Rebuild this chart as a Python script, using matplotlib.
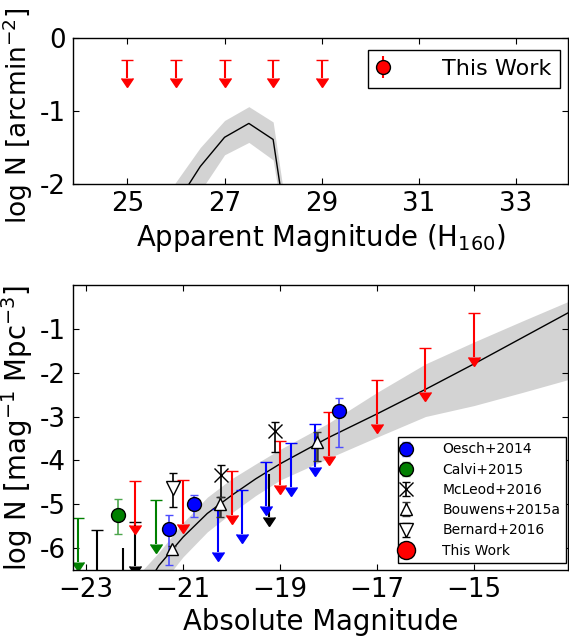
import matplotlib
matplotlib.use("Agg")
import matplotlib.pyplot as plt
from matplotlib.lines import Line2D

# ---- top panel: surface density vs apparent magnitude ----
app_mag = [25, 26, 27, 28, 29]
app_limit = [-0.3, -0.3, -0.3, -0.3, -0.3]
app_limit_len = 0.25

model_app_mag = [25.5, 26.0, 26.5, 27.0, 27.5, 28.0, 28.5]
model_app = [-3.2, -2.28, -1.76, -1.36, -1.17, -1.39, -3.6]
model_app_hi = [-2.5, -1.97, -1.50, -1.13, -0.94, -1.15, -3.4]
model_app_lo = [-3.6, -2.6, -2.1, -1.60, -1.43, -1.67, -3.7]

# ---- bottom panel: luminosity function ----
model_mag = [-22.0, -21.5, -21.0, -20.5, -20.0, -19.5, -19.0, -18.5, -18.0,
             -17.0, -16.0, -15.0, -14.0, -13.0]
model_lf = [-7.3, -6.4, -5.75, -5.21, -4.8, -4.42, -4.08, -3.78, -3.48,
            -2.94, -2.38, -1.80, -1.2, -0.6]
model_lf_hi = [-6.7, -6.1, -5.42, -4.84, -4.42, -4.08, -3.75, -3.45, -3.15,
               -2.45, -1.8, -1.3, -0.82, -0.35]
model_lf_lo = [-7.8, -6.9, -6.2, -5.63, -5.2, -4.8, -4.45, -4.2, -3.95,
               -3.47, -3.0, -2.75, -2.45, -2.14]

oesch_mag = [-21.28, -20.78, -17.78]
oesch_lf = [-5.56, -4.99, -2.88]
oesch_err_lo = [0.83, 0.30, 0.82]
oesch_err_hi = [0.31, 0.19, 0.31]
oesch_lim_mag = [-20.28, -19.78, -19.28, -18.78, -18.28]
oesch_lim = [-5.1, -4.68, -4.04, -3.60, -3.16]

calvi_mag = [-22.35]
calvi_lf = [-5.25]
calvi_err_lo = [0.44]
calvi_err_hi = [0.38]
calvi_lim_mag = [-23.16, -21.56]
calvi_lim = [-5.31, -4.91]

mcleod_mag = [-20.22, -19.11]
mcleod_lf = [-4.33, -3.34]
mcleod_err_lo = [0.50, 0.47]
mcleod_err_hi = [0.22, 0.21]
mcleod_lim_mag = [-22.78, -22.0]
mcleod_lim = [-5.58, -5.40]

bouwens_mag = [-21.23, -20.23, -18.23]
bouwens_lf = [-6.01, -5.0, -3.58]
bouwens_err_lo = [0.05, 0.29, 0.44]
bouwens_err_hi = [0.05, 0.16, 0.22]
bouwens_lim_mag = [-22.23, -19.23]
bouwens_lim = [-6.0, -4.30]

bernard_mag = [-21.21]
bernard_lf = [-4.64]
bernard_err_lo = [0.42]
bernard_err_hi = [0.35]

work_mag = [-22, -21, -20, -19, -18, -17, -16, -15]
work_lim = [-4.47, -4.44, -4.25, -3.56, -2.90, -2.16, -1.43, -0.64]
limit_len = 1.0

plt.rcParams['font.family'] = 'DejaVu Sans'
plt.rcParams['xtick.direction'] = 'in'
plt.rcParams['ytick.direction'] = 'in'
plt.rcParams['xtick.top'] = True
plt.rcParams['ytick.right'] = True
plt.rcParams['xtick.major.size'] = 4
plt.rcParams['ytick.major.size'] = 4
plt.rcParams['xtick.major.pad'] = 5
plt.rcParams['ytick.major.pad'] = 5

fig = plt.figure(figsize=(5.69, 6.38), dpi=100)
ax1 = fig.add_axes([0.1283, 0.7116, 0.8708, 0.2288])
ax2 = fig.add_axes([0.1283, 0.1066, 0.8708, 0.4467])

tick_fs = 18.8
label_fs = 19.8
arrow_cap = 4.5

# top panel
ax1.fill_between(model_app_mag, model_app_lo, model_app_hi, color='lightgray', lw=0)
ax1.plot(model_app_mag, model_app, color='k', lw=1)
ax1.errorbar(app_mag, app_limit, yerr=app_limit_len, uplims=True, fmt='none',
             color='red', elinewidth=1.5, capsize=arrow_cap)
ax1.errorbar([], [], yerr=[], fmt='o', color='red', mec='k', ms=10,
             ecolor='red', capsize=3, label='This Work')
ax1.set_xlim(23.88, 34.08)
ax1.set_ylim(-2, 0)
ax1.set_xticks([25, 27, 29, 31, 33])
ax1.set_yticks([0, -1, -2])
ax1.set_yticklabels(['0', '-1', '-2'])
ax1.tick_params(labelsize=tick_fs)
ax1.set_xlabel('Apparent Magnitude (H$_{160}$)', fontsize=label_fs)
ax1.set_ylabel('log N [arcmin$^{-2}$]', fontsize=19)
ax1.yaxis.set_label_coords(-0.077, 0.47)
leg1 = ax1.legend(loc='upper right', bbox_to_anchor=(0.983, 0.918), borderaxespad=0,
                  fontsize=16, numpoints=1, handlelength=0.5, handletextpad=2.4,
                  fancybox=False, framealpha=1, edgecolor='k')
leg1.get_frame().set_linewidth(1)

# bottom panel
ax2.fill_between(model_mag, model_lf_lo, model_lf_hi, color='lightgray', lw=0)
ax2.plot(model_mag, model_lf, color='k', lw=1)

lim_kw = dict(uplims=True, fmt='none', elinewidth=1.5, capsize=arrow_cap)
ax2.errorbar(calvi_lim_mag, calvi_lim, yerr=limit_len, color='green', **lim_kw)
ax2.errorbar(mcleod_lim_mag, mcleod_lim, yerr=limit_len, color='k', **lim_kw)
bw_lim = ax2.errorbar(bouwens_lim_mag, bouwens_lim, yerr=limit_len, color='k', **lim_kw)
# Bouwens limits have only the arrow head, no top cap
for cl in bw_lim[1]:
    if cl.get_marker() == '_':
        cl.set_visible(False)
ax2.errorbar(oesch_lim_mag, oesch_lim, yerr=limit_len, color='blue', **lim_kw)
ax2.errorbar(work_mag, work_lim, yerr=limit_len, color='red', **lim_kw)

h_oesch = ax2.errorbar(oesch_mag, oesch_lf, yerr=[oesch_err_lo, oesch_err_hi], fmt='o',
                       color='blue', mec='k', ms=10, ecolor=(0.3, 0.3, 1.0),
                       elinewidth=1.2, capsize=3, label='Oesch+2014')
h_calvi = ax2.errorbar(calvi_mag, calvi_lf, yerr=[calvi_err_lo, calvi_err_hi], fmt='o',
                       color='green', mec='k', ms=10, ecolor=(0.3, 0.65, 0.3),
                       elinewidth=1.2, capsize=3, label='Calvi+2015')
h_mcleod = ax2.errorbar(mcleod_mag, mcleod_lf, yerr=[mcleod_err_lo, mcleod_err_hi], fmt='x',
                        color='k', ms=10, ecolor='k', elinewidth=1.2, capsize=3,
                        label='McLeod+2016')
h_bouwens = ax2.errorbar(bouwens_mag, bouwens_lf, yerr=[bouwens_err_lo, bouwens_err_hi],
                         fmt='^', mfc='white', mec='k', ms=9, ecolor='0.2',
                         elinewidth=1.8, capsize=3, label='Bouwens+2015a')
h_bernard = ax2.errorbar(bernard_mag, bernard_lf, yerr=[bernard_err_lo, bernard_err_hi],
                         fmt='v', mfc='white', mec='k', ms=10, ecolor='k',
                         elinewidth=1.2, capsize=3, label='Bernard+2016')
h_work = Line2D([], [], ls='none', marker='o', color='red', mec='k', ms=13,
                label='This Work')

ax2.set_xlim(-23.27, -13.05)
ax2.set_ylim(-6.5, 0)
ax2.set_xticks([-23, -21, -19, -17, -15])
ax2.set_yticks([-1, -2, -3, -4, -5, -6])
ax2.set_yticklabels(['-1', '-2', '-3', '-4', '-5', '-6'])
ax2.tick_params(labelsize=tick_fs)
ax2.set_xlabel('Absolute Magnitude', fontsize=label_fs)
ax2.set_ylabel('log N [mag$^{-1}$ Mpc$^{-3}$]', fontsize=label_fs)
ax2.yaxis.set_label_coords(-0.077, 0.5)
leg2 = ax2.legend(handles=[h_oesch, h_calvi, h_mcleod, h_bouwens, h_bernard, h_work],
                  loc='lower right', bbox_to_anchor=(0.995, 0.0235), borderaxespad=0,
                  fontsize=10, numpoints=1, handlelength=0.4, handletextpad=2.4,
                  labelspacing=0.45, fancybox=False, framealpha=1, edgecolor='k')
leg2.get_frame().set_linewidth(1)

for ax in (ax1, ax2):
    for s in ax.spines.values():
        s.set_linewidth(1)

fig.savefig('out.png', dpi=100)
